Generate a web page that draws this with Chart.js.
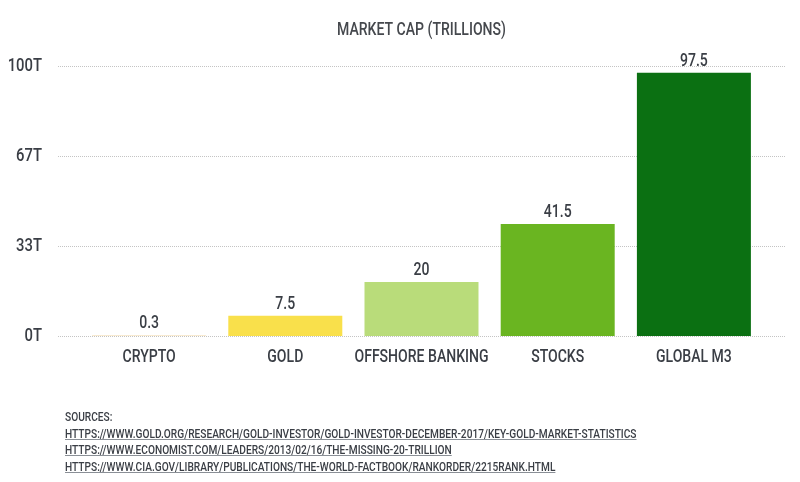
<!DOCTYPE html>
<html>
<head>
<meta charset="utf-8">
<script src="https://cdn.jsdelivr.net/npm/chart.js@4/dist/chart.umd.min.js"></script>
<style>
  html, body { margin: 0; padding: 0; background: #fff; }
  #wrap { position: relative; width: 800px; height: 482px; overflow: hidden; }
  #sources {
    position: absolute; left: 65px; top: 408px;
    font-family: Roboto, sans-serif; font-weight: 500;
    font-size: 13.5px; line-height: 16.5px; color: #3a3e45;
    transform: scaleX(0.752); transform-origin: 0 0; white-space: nowrap;
  }
  #sources a { color: #3a3e45; text-decoration: underline; text-decoration-color: #8a8f96; display: block; }
</style>
</head>
<body>
<div id="wrap">
  <canvas id="c" width="800" height="482"></canvas>
  <div id="sources">
    <div>SOURCES:</div>
    <a>HTTPS://WWW.GOLD.ORG/RESEARCH/GOLD-INVESTOR/GOLD-INVESTOR-DECEMBER-2017/KEY-GOLD-MARKET-STATISTICS</a>
    <a>HTTPS://WWW.ECONOMIST.COM/LEADERS/2013/02/16/THE-MISSING-20-TRILLION</a>
    <a>HTTPS://WWW.CIA.GOV/LIBRARY/PUBLICATIONS/THE-WORLD-FACTBOOK/RANKORDER/2215RANK.HTML</a>
  </div>
</div>
<script>
const chartTitle = 'MARKET CAP (TRILLIONS)';
const categories = ['CRYPTO', 'GOLD', 'OFFSHORE BANKING', 'STOCKS', 'GLOBAL M3'];
const values = [0.3, 7.5, 20, 41.5, 97.5];
const valueLabels = ['0.3', '7.5', '20', '41.5', '97.5'];
const barColors = ['#F6E3C0', '#F9E04B', '#B9DC7A', '#6AB521', '#0B7012'];
const yTickValues = [0, 100 / 3, 200 / 3, 100];
const yTickLabels = ['0T', '33T', '67T', '100T'];

const FONT = 'Roboto, sans-serif';
const SX = 0.78;
const TEXT = '#3a3e45';

function txt(ctx, s, x, y, align, base, size, color) {
  ctx.save();
  ctx.font = '500 ' + size + 'px ' + FONT;
  ctx.fillStyle = color || TEXT;
  ctx.textAlign = align;
  ctx.textBaseline = base;
  ctx.translate(x, y);
  ctx.scale(SX, 1);
  ctx.fillText(s, 0, 0);
  ctx.restore();
}

const gridPlugin = {
  id: 'extGrid',
  beforeDatasetsDraw(chart) {
    const ctx = chart.ctx, y = chart.scales.y, a = chart.chartArea;
    ctx.save();
    ctx.strokeStyle = '#c4c4c4';
    ctx.lineWidth = 1;
    ctx.setLineDash([1, 1]);
    y.ticks.forEach(t => {
      const py = Math.round(y.getPixelForValue(t.value)) + 0.5;
      ctx.beginPath();
      ctx.moveTo(a.left - 23, py);
      ctx.lineTo(a.right + 23, py);
      ctx.stroke();
    });
    ctx.restore();
  }
};

const textPlugin = {
  id: 'condensedText',
  afterDatasetsDraw(chart) {
    const ctx = chart.ctx, a = chart.chartArea;
    const xs = chart.scales.x, ys = chart.scales.y;
    txt(ctx, chartTitle, (a.left + a.right) / 2, 30, 'center', 'middle', 18, '#45484d');
    ys.ticks.forEach((t, i) => {
      txt(ctx, yTickLabels[i], a.left - 39, ys.getPixelForValue(t.value), 'right', 'middle', 19);
    });
    categories.forEach((c, i) => {
      txt(ctx, c, xs.getPixelForValue(i), a.bottom + 21, 'center', 'middle', 18);
    });
    const meta = chart.getDatasetMeta(0);
    meta.data.forEach((bar, i) => {
      txt(ctx, valueLabels[i], bar.x, bar.y - 7, 'center', 'alphabetic', 18);
    });
  }
};

new Chart(document.getElementById('c'), {
  type: 'bar',
  data: {
    labels: categories,
    datasets: [{
      data: values,
      backgroundColor: barColors,
      borderWidth: 0,
      barPercentage: 0.837,
      categoryPercentage: 1.0
    }]
  },
  options: {
    responsive: false,
    devicePixelRatio: 1,
    animation: false,
    layout: { padding: { left: 0, right: 38, top: 66, bottom: 0 } },
    plugins: {
      legend: { display: false },
      tooltip: { enabled: false },
      title: { display: false }
    },
    scales: {
      x: {
        grid: { display: false, drawTicks: false },
        border: { display: false },
        ticks: { display: false },
        afterFit(s) { s.height = 146; }
      },
      y: {
        min: 0, max: 100,
        grid: { display: false, drawTicks: false },
        border: { display: false },
        afterBuildTicks(s) { s.ticks = yTickValues.map(v => ({ value: v })); },
        ticks: { display: false },
        afterFit(s) { s.width = 81; }
      }
    }
  },
  plugins: [gridPlugin, textPlugin]
});
</script>
</body>
</html>
